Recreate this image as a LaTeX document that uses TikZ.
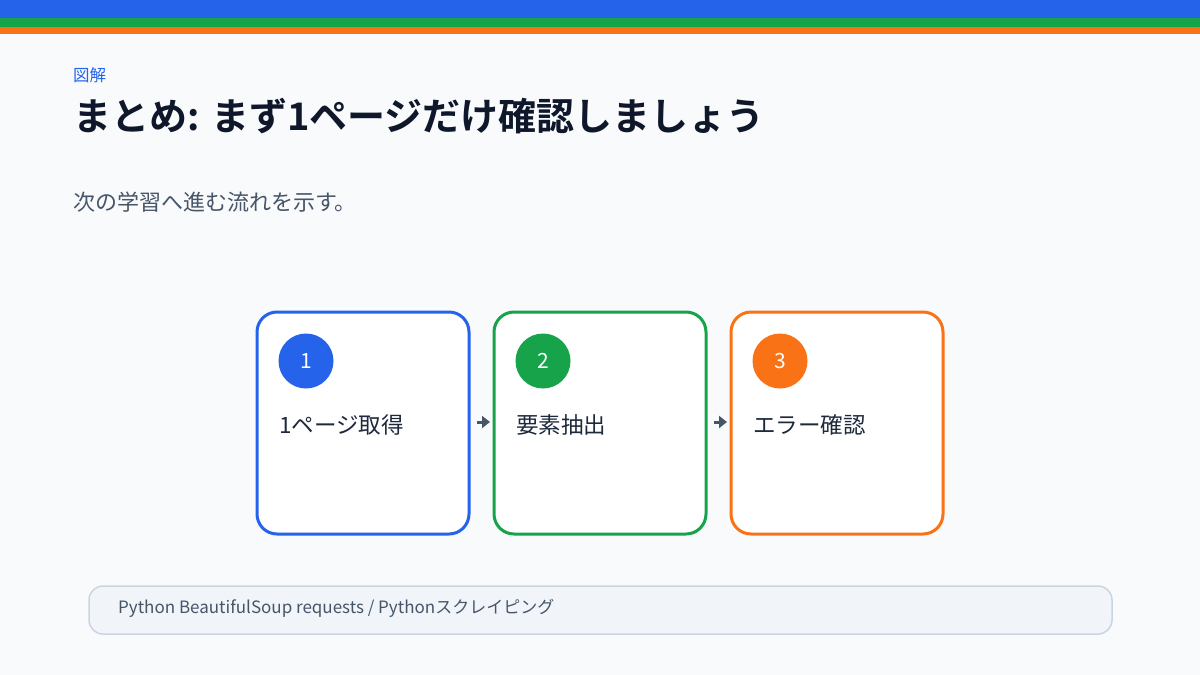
\documentclass[tikz,border=0pt]{standalone}
\usepackage{fontspec}
\setmainfont{Noto Sans CJK JP}
\newfontfamily\jpbold{Noto Sans CJK JP Bold}
\usetikzlibrary{arrows.meta}
\definecolor{bg}{HTML}{F8FAFC}
\definecolor{cblue}{HTML}{2563EB}
\definecolor{cgreen}{HTML}{16A34A}
\definecolor{corange}{HTML}{F97316}
\definecolor{ink}{HTML}{0F172A}
\definecolor{inkmid}{HTML}{1E293B}
\definecolor{slate}{HTML}{475569}
\definecolor{arrowc}{HTML}{475569}
\definecolor{footfill}{HTML}{F1F5F9}
\definecolor{footline}{HTML}{CBD5E1}
\tikzset{
  stepbox/.style={draw=#1, line width=3pt, fill=white, rounded corners=20pt, minimum width=212pt, minimum height=222pt, inner sep=0pt},
  numcirc/.style={circle, fill=#1, minimum size=55pt, inner sep=0pt, text=white, font=\fontsize{21}{24}\selectfont},
  steplabel/.style={anchor=west, text=inkmid, font=\fontsize{22.5}{26}\selectfont, inner sep=0pt},
  flow/.style={draw=arrowc, line width=3pt, -{Triangle[length=8pt,width=12pt]}},
}
\begin{document}
\begin{tikzpicture}[x=1pt,y=-1pt]
\useasboundingbox (0,0) rectangle (1200,675);
\fill[bg] (0,0) rectangle (1200,675);
\fill[cblue] (0,0) rectangle (1200,18);
\fill[cgreen] (0,18) rectangle (1200,27);
\fill[corange] (0,27) rectangle (1200,34);

\node[anchor=west, inner sep=0pt, text=cblue, font=\fontsize{16.5}{19}\selectfont] (tag) at (73,75) {図解};
\node[anchor=west, inner sep=0pt, text=ink, font=\jpbold\fontsize{38}{44}\selectfont] (title) at (73,116) {まとめ: まず1ページだけ確認しましょう};
\node[anchor=west, inner sep=0pt, text=slate, font=\fontsize{22}{26}\selectfont] (sub) at (73,202) {次の学習へ進む流れを示す。};

\node[stepbox=cblue] (b1) at (363,423) {};
\node[stepbox=cgreen] (b2) at (600,423) {};
\node[stepbox=corange] (b3) at (837,423) {};

\node[numcirc=cblue] (n1) at (306,361) {1};
\node[numcirc=cgreen] (n2) at (543,361) {2};
\node[numcirc=corange] (n3) at (780,361) {3};

\node[steplabel] (l1) at (279,425) {1ページ取得};
\node[steplabel] (l2) at (516,425) {要素抽出};
\node[steplabel] (l3) at (753,425) {エラー確認};

\coordinate (a1s) at (477,422);
\coordinate (a1e) at (490,422);
\coordinate (a2s) at (714,422);
\coordinate (a2e) at (727,422);
\draw[flow] (a1s) -- (a1e);
\draw[flow] (a2s) -- (a2e);

\node[draw=footline, line width=1.5pt, fill=footfill, rounded corners=14pt, minimum width=1023pt, minimum height=48pt, inner sep=0pt] (foot) at (600.5,610) {};
\node[anchor=west, inner sep=0pt, text=slate, font=\fontsize{17}{20}\selectfont] (foottext) at (118,608) {Python BeautifulSoup requests / Pythonスクレイピング};
\end{tikzpicture}
\end{document}
